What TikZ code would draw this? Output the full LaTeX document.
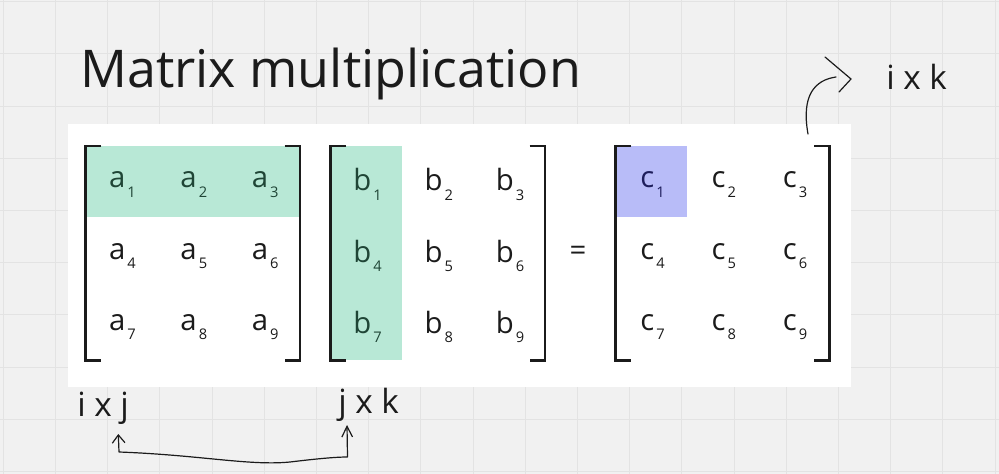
\documentclass[tikz,border=0pt]{standalone}
\usepackage{fontspec}
\setmainfont{Open Sans}
\usetikzlibrary{arrows.meta,calc,positioning}

\definecolor{boardgray}{HTML}{F1F1F1}
\definecolor{gridgray}{HTML}{E3E3E3}
\definecolor{rowgreen}{HTML}{B8E8D6}
\definecolor{cellblue}{HTML}{B8BCF8}
\definecolor{inkgreen}{HTML}{1F4536}
\definecolor{inkblue}{HTML}{1E1E5C}
\definecolor{ink}{HTML}{1B1B1B}

% letter with a lowered index, as on the board
\newcommand{\mentry}[2]{#1\kern1.5pt\raisebox{-0.32em}{\fontsize{11}{13}\selectfont #2}}

\begin{document}
\begin{tikzpicture}[x=0.75pt, y=-0.75pt, line cap=round, line join=round,
  bracket/.style={line width=1.9pt, line cap=butt, line join=miter, draw=ink},
  cell/.style={inner sep=0pt, font=\fontsize{22}{26}\selectfont, text=ink},
  hand/.style={line width=0.9pt, draw=ink},
  scrawl/.style={inner sep=0pt, anchor=base west, font=\fontsize{25}{29}\selectfont, text=ink}]
  % Board: grey background with a faint grid.
  \fill[boardgray] (0,0) rectangle (999,474);
  \useasboundingbox (0,0) rectangle (999,474);
  \foreach \gx in {0,...,19} \draw[gridgray, line width=0.8pt] ({3.3+52.2*\gx},0) -- ++(0,474);
  \foreach \gy in {0,...,9} \draw[gridgray, line width=0.8pt] (0,{1.7+52.2*\gy}) -- ++(999,0);

  % Title.
  \node[anchor=base west, inner sep=0pt, font=\fontsize{39}{47}\selectfont, text=ink] (title) at (80,88) {Matrix multiplication};

  % White card that holds the equation.
  \fill[white] (68,124) rectangle (851,387);

  % Highlights: first row of A, first column of B, first entry of C.
  \fill[rowgreen] (86,146) rectangle (300,217.3);
  \fill[rowgreen] (331,146) rectangle (402.3,360);
  \fill[cellblue] (616,146) rectangle (687.3,217.3);

  % Entries a1..a9, b1..b9, c1..c9.
  \foreach \m/\lx in {a/86,b/331,c/616}
    \foreach \i in {1,...,9} {
      \pgfmathtruncatemacro{\col}{mod(\i-1,3)}
      \pgfmathtruncatemacro{\row}{(\i-1)/3}
      \def\tint{ink}
      \ifnum\row=0 \if a\m \def\tint{inkgreen}\fi\fi
      \ifnum\col=0 \if b\m \def\tint{inkgreen}\fi\fi
      \ifnum\i=1 \if c\m \def\tint{inkblue}\fi\fi
      \node[cell, text=\tint] (\m\i) at ({\lx+36.5+71.33*\col},{184.5+71.33*\row}) {\mentry{\m}{\i}};
    }
  \node[cell] (eq) at (578,253) {=};

  % Square brackets round each matrix.
  \foreach \lb/\rb in {85.5/300.2, 330.5/545, 615.5/829.5} {
    \draw[bracket] (\lb+15.5,146) -- (\lb,146) -- (\lb,360.5) -- (\lb+15.5,360.5);
    \draw[bracket] (\rb-15.5,146) -- (\rb,146) -- (\rb,360.5) -- (\rb-15.5,360.5);
  }

  % Handwritten sizes.
  \node[scrawl] (ixk) at (886,90) {i x k};
  \node[scrawl] (ixj) at (77,416) {i x j};
  \node[scrawl] (jxk) at (338,413) {j x k};

  % Arrow from C up to its size.
  \coordinate (cfoot) at (808,134);
  \coordinate (ctip) at (851,79);
  \draw[hand] (cfoot) .. controls (801,95) and (815,80) .. (836,77);
  \draw[hand] ($(ctip)+(-26,-22)$) -- (ctip) -- ($(ctip)+(-12,13)$);

  % Arrow linking the two inner j's.
  \coordinate (jtipA) at (118.3,434);
  \coordinate (jtipB) at (347,425);
  \draw[hand, {Straight Barb[length=6pt,width=9.5pt]}-{Straight Barb[length=8pt,width=8pt]}]
    (jtipA) -- (119,452) .. controls (200,455) and (250,466) .. (290,462)
    .. controls (315,459) and (335,457) .. (347.5,457) -- (jtipB);
\end{tikzpicture}
\end{document}
